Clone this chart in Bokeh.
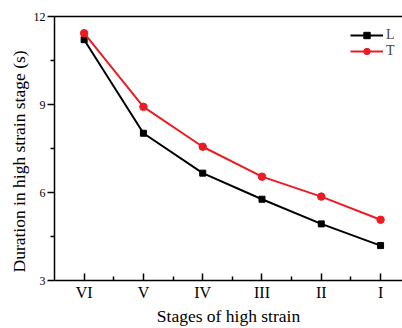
from bokeh.plotting import figure
from bokeh.models import FixedTicker, LinearAxis, Legend, LegendItem, Range1d, Title
from bokeh.embed import file_html
from bokeh.resources import INLINE

# Stages of high strain and the time spent in each (s)
stages = ["VI", "V", "IV", "III", "II", "I"]
duration_L = [11.21, 8.02, 6.66, 5.77, 4.93, 4.19]
duration_T = [11.43, 8.92, 7.56, 6.54, 5.86, 5.07]
y_ticks = [3, 6, 9, 12]

FONT = "Liberation Serif"
x = list(range(len(stages)))

p = figure(width=402, height=328, output_backend="svg", toolbar_location=None,
           x_range=Range1d(-0.5, 5.37), y_range=Range1d(3, 12),
           min_border_left=54, min_border_right=0, min_border_top=16,
           min_border_bottom=47)
p.outline_line_color = None
p.grid.visible = False
p.background_fill_color = "white"
p.border_fill_color = "white"

# x axis: stage labels, ticks pointing into the frame
xa = p.xaxis[0]
xa.ticker = FixedTicker(ticks=x, minor_ticks=[i + 0.5 for i in x])
xa.major_label_overrides = {i: s for i, s in enumerate(stages)}
xa.major_tick_in = 7
xa.major_tick_out = 0
xa.minor_tick_in = 4
xa.minor_tick_out = 0
xa.axis_label = "Stages of high strain"

# y axis: ticks pointing outward
ya = p.yaxis[0]
ya.ticker = FixedTicker(ticks=y_ticks, minor_ticks=[4.5, 7.5, 10.5])
ya.major_tick_out = 7
ya.major_tick_in = 0
ya.minor_tick_out = 4
ya.minor_tick_in = 0

for ax in (xa, ya):
    ax.axis_line_width = 1.5
    ax.axis_line_color = "black"
    ax.major_tick_line_width = 1.5
    ax.minor_tick_line_width = 1.5
    ax.major_tick_line_color = "black"
    ax.minor_tick_line_color = "black"
    ax.major_label_text_font = FONT
    ax.major_label_text_color = "black"
    ax.axis_label_text_font = FONT
    ax.axis_label_text_font_size = "17.5px"
    ax.axis_label_text_font_style = "normal"
    ax.axis_label_text_color = "black"

xa.major_label_text_font_size = "16px"
ya.major_label_text_font_size = "12px"
xa.major_label_standoff = 3
xa.axis_label_standoff = 2
ya.major_label_standoff = 2

# y axis title, shifted a little below the middle of the frame
p.add_layout(Title(text="Duration in high strain stage (s)", align="left",
                   offset=8, standoff=3, text_font=FONT,
                   text_font_size="17.5px", text_font_style="normal",
                   text_color="black"), "left")

# plain frame line along the top
top = LinearAxis(ticker=FixedTicker(ticks=[]), major_label_text_font_size="0px",
                 axis_line_width=1.5, major_tick_line_color=None,
                 minor_tick_line_color=None)
p.add_layout(top, "above")

lL = p.line(x, duration_L, line_color="black", line_width=2)
mL = p.scatter(x, duration_L, marker="square", size=6, color="black")
lT = p.line(x, duration_T, line_color="#ec1c24", line_width=2)
mT = p.scatter(x, duration_T, marker="circle", size=7.5, color="#ec1c24")

legend = Legend(items=[LegendItem(label="L", renderers=[lL, mL]),
                       LegendItem(label="T", renderers=[lT, mT])],
                location=(296, 221), background_fill_alpha=0,
                border_line_color=None, label_text_font=FONT,
                label_text_font_size="14px", glyph_width=33, glyph_height=16,
                label_height=16, spacing=0, padding=0, margin=0,
                label_standoff=3)
p.add_layout(legend)

open("out.html", "w").write(file_html(p, INLINE))
